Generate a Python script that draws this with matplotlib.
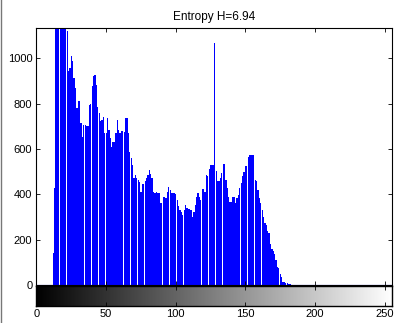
import numpy as np
import matplotlib
matplotlib.use('Agg')
import matplotlib.pyplot as plt
from matplotlib.lines import Line2D

plt.rcParams['font.family'] = ['Liberation Sans', 'DejaVu Sans']

# histogram counts per gray level (0..255)
counts = np.zeros(256)
vals = [140, 430, 1250, 1400, 1350, 1300, 1220, 1180, 1200, 1150, 1120,   # 12-22
        943, 958, 1009, 987, 915, 870, 782, 810, 810, 716,                  # 23-32
        655, 707, 707, 700, 703, 795, 800, 876, 923, 925,                   # 33-42
        884, 786, 760, 722, 730, 740, 671, 671, 737, 685,                   # 43-52
        650, 611, 633, 633, 671, 726, 685, 671, 678, 678,                   # 53-62
        675, 737, 737, 670, 589, 560, 530, 471, 486, 471,                   # 63-72
        465, 455, 410, 446, 446, 460, 470, 485, 508, 490,                   # 73-82
        470, 412, 405, 412, 408, 405, 361, 360, 390, 390,                   # 83-92
        383, 412, 434, 420, 405, 408, 408, 400, 376, 350,                   # 93-102
        331, 324, 309, 330, 354, 339, 336, 335, 330, 302,                   # 103-112
        324, 354, 390, 405, 390, 376, 424, 423, 412, 486,                   # 113-122
        479, 511, 530, 530, 530, 1068, 501, 457, 457, 470,                  # 123-132
        496, 535, 535, 464, 427, 390, 368, 368, 390, 390,                   # 133-142
        364, 383, 398, 427, 452, 482, 500, 523, 523, 567,                   # 143-152
        574, 574, 574, 574, 464, 457, 420, 383, 361, 330,                   # 153-162
        300, 272, 265, 240, 228, 181, 160, 150, 135, 110,                   # 163-172
        81, 74, 50, 37, 15, 12, 10, 8, 5, 3, 2]                             # 173-183
counts[12:12 + len(vals)] = vals
levels = np.arange(256)

title = 'Entropy H=6.94'
xticks = [0, 50, 100, 150, 200, 250]
yticks = [0, 200, 400, 600, 800, 1000]

fig = plt.figure(figsize=(3.97, 3.23), dpi=100)
ax = fig.add_axes([0.0919, 0.1176, 0.8947, 0.7957])
ax.bar(levels, counts, width=0.9, color='#0000ff', linewidth=0)
ax.axhline(0, color='#0000ff', lw=0.8)
ax.set_xlim(0, 255)
ax.set_ylim(0, 1134)
ax.set_xticks(xticks)
ax.set_xticklabels([])
ax.set_yticks(yticks)
ax.tick_params(direction='in', length=3, width=0.6, top=True, right=True,
               labelsize=8, pad=3)
for s in ax.spines.values():
    s.set_linewidth(0.8)
ax.set_title(title, fontsize=8.5, pad=6)

# grayscale bar under the histogram
cax = fig.add_axes([0.0919, 0.0526, 0.8947, 0.0619])
cax.imshow(levels[np.newaxis, :], cmap='gray', aspect='auto',
           extent=[-0.5, 255.5, 0, 1], vmin=0, vmax=255)
cax.set_xlim(0, 255)
cax.set_xticks(xticks)
cax.set_yticks([])
cax.tick_params(direction='in', length=3, width=0.6, top=True,
                labelsize=8, pad=2)
for s in cax.spines.values():
    s.set_linewidth(1.0)

fig.add_artist(Line2D([0.002, 0.002], [0, 1], color='#777777', lw=1.0,
                      transform=fig.transFigure))

fig.savefig('out.png', dpi=100)
plt.close(fig)
